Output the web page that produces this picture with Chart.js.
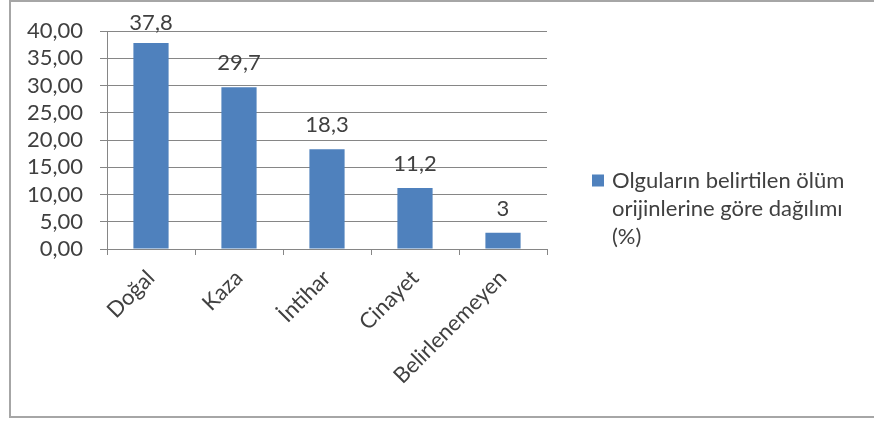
<!DOCTYPE html>
<html>
<head>
<meta charset="utf-8">
<script src="https://cdn.jsdelivr.net/npm/chart.js@4.4.0/dist/chart.umd.min.js"></script>
<style>
  html, body { margin: 0; padding: 0; background: #fff; overflow: hidden; }
  #page { position: relative; width: 874px; height: 423px; overflow: hidden; }
  #frame {
    position: absolute; left: 9px; top: 0px; width: 880px; height: 418px;
    border: 2px solid #a6a6a6; border-right: none; box-sizing: border-box;
  }
  #wrap { position: absolute; left: 0; top: 0; width: 874px; height: 423px; }
</style>
</head>
<body>
<div id="page">
  <div id="frame"></div>
  <div id="wrap"><canvas id="myChart"></canvas></div>
</div>
<script>
const categories = ['Doğal', 'Kaza', 'İntihar', 'Cinayet', 'Belirlenemeyen'];
const percentages = [37.8, 29.7, 18.3, 11.2, 3];
const legendLines = ['Olguların belirtilen ölüm', 'orijinlerine göre dağılımı', '(%)'];
const yTicks = [0, 5, 10, 15, 20, 25, 30, 35, 40];

const FONT = 'Lato';
const SIZE = 22;
const TEXT = '#404040';
const BAR = '#4F81BD';

// values on top of the bars
const barLabels = {
    id: 'barLabels',
    afterDatasetsDraw(chart) {
        const ctx = chart.ctx;
        const meta = chart.getDatasetMeta(0);
        ctx.save();
        ctx.font = SIZE + 'px ' + FONT;
        ctx.fillStyle = TEXT;
        ctx.textAlign = 'center';
        ctx.textBaseline = 'alphabetic';
        meta.data.forEach((bar, i) => {
            const txt = String(percentages[i]).replace('.', ',');
            // keep the label inside the chart when the bar is near the top
            const y = Math.max(bar.y - 17, 30);
            ctx.fillText(txt, bar.x, y);
        });
        ctx.restore();
    }
};

// legend on the right with wrapped text
const sideLegend = {
    id: 'sideLegend',
    afterDraw(chart) {
        const ctx = chart.ctx;
        const area = chart.chartArea;
        const lineH = 28;
        const x = area.right + 45;
        const y0 = chart.height / 2 - 31;
        ctx.save();
        ctx.fillStyle = BAR;
        ctx.fillRect(x, y0 - 6, 12, 12);
        ctx.font = SIZE + 'px ' + FONT;
        ctx.fillStyle = TEXT;
        ctx.textAlign = 'left';
        ctx.textBaseline = 'middle';
        legendLines.forEach((line, i) => {
            ctx.fillText(line, x + 20, y0 + i * lineH);
        });
        ctx.restore();
    }
};

const ctx = document.getElementById('myChart').getContext('2d');
const myChart = new Chart(ctx, {
    type: 'bar',
    data: {
        labels: categories,
        datasets: [{
            label: legendLines.join(' '),
            data: percentages,
            backgroundColor: BAR,
            borderWidth: 0,
            barPercentage: 0.4,
            categoryPercentage: 1.0,
        }]
    },
    options: {
        responsive: true,
        maintainAspectRatio: false,
        animation: false,
        layout: {
            padding: { left: 10, right: 327, top: 31, bottom: 24 }
        },
        plugins: {
            legend: { display: false },
            tooltip: { enabled: false }
        },
        scales: {
            x: {
                offset: true,
                afterFit(scale) { scale.height = 150; },
                grid: {
                    offset: true,
                    drawOnChartArea: false,
                    drawTicks: true,
                    tickLength: 6,
                    color: '#868686'
                },
                border: { color: '#868686' },
                ticks: {
                    minRotation: 45,
                    maxRotation: 45,
                    padding: 10,
                    color: TEXT,
                    font: { family: FONT, size: SIZE }
                }
            },
            y: {
                min: 0,
                max: 40,
                afterFit(scale) { scale.width = 97; },
                afterBuildTicks(axis) {
                    axis.ticks = yTicks.map(v => ({ value: v }));
                },
                grid: {
                    color: '#868686',
                    tickLength: 7
                },
                border: { color: '#868686' },
                ticks: {
                    autoSkip: false,
                    padding: 17,
                    color: TEXT,
                    font: { family: FONT, size: SIZE },
                    callback: v => v.toFixed(2).replace('.', ',')
                }
            }
        }
    },
    plugins: [barLabels, sideLegend]
});
</script>
</body>
</html>
